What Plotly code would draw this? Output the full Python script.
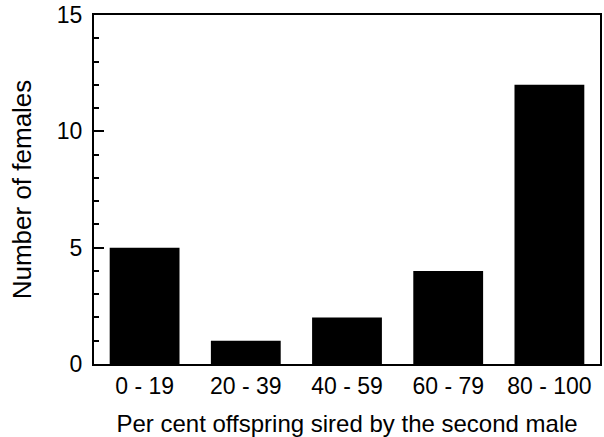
import plotly.graph_objects as go

categories = ["0 - 19", "20 - 39", "40 - 59", "60 - 79", "80 - 100"]
females = [5, 1, 2, 4, 12]

FONT = "Liberation Sans, Arial, Helvetica, sans-serif"

fig = go.Figure(go.Bar(
    x=categories, y=females,
    marker=dict(color="black", line=dict(width=0)),
))

fig.update_layout(
    width=604, height=437,
    margin=dict(l=94, r=2, t=14, b=73),
    paper_bgcolor="white", plot_bgcolor="white",
    bargap=0.31,
    showlegend=False,
    font=dict(family=FONT, color="black", size=23),
)
fig.update_xaxes(
    showline=True, linecolor="black", linewidth=2, mirror=True,
    ticks="", showgrid=False,
    tickfont=dict(size=23),
    title=dict(text="Per cent offspring sired by the second male", font=dict(size=24), standoff=18),
)
fig.update_yaxes(
    range=[0, 15], tickvals=[0, 5, 10, 15],
    showline=True, linecolor="black", linewidth=2, mirror=True,
    ticks="inside", ticklen=10, tickwidth=2, tickcolor="black",
    minor=dict(dtick=1, ticks="inside", ticklen=5, tickwidth=1.5, tickcolor="black", showgrid=False),
    showgrid=False, zeroline=False,
    tickfont=dict(size=23), ticklabelstandoff=5, ticklabeloverflow="allow",
    title=dict(text="Number of females", font=dict(size=26), standoff=18),
)

fig.write_html(
    "out.html",
    config={"displayModeBar": False},
    post_script="document.body.style.margin='0';document.body.style.overflow='hidden';",
)
